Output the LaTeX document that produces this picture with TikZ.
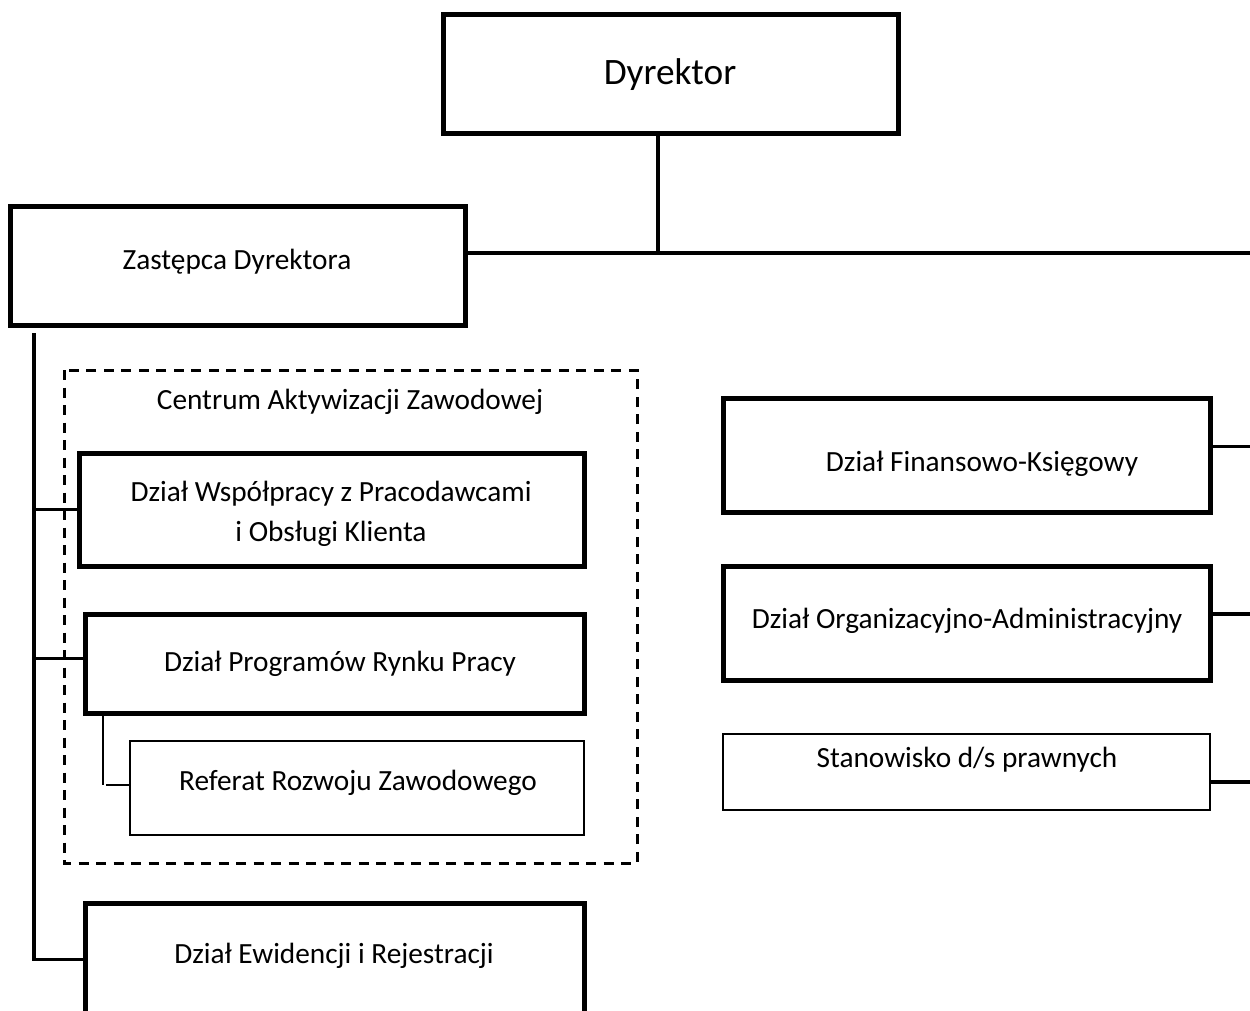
\documentclass[tikz,border=0pt]{standalone}
\usepackage{fontspec}
\setmainfont{Carlito}
\tikzset{
  unit/.style={draw, line width=5pt, inner sep=0pt, outer sep=0pt},
  thinunit/.style={draw, line width=2pt, inner sep=0pt, outer sep=0pt},
  lbl/.style={inner sep=0pt, font=\fontsize{29.3}{40}\selectfont, align=center},
  link/.style={line width=3.5pt},
  thinlink/.style={line width=1.6pt}
}
\begin{document}
\begin{tikzpicture}[x=1pt,y=-1pt]
      \useasboundingbox (0,0) rectangle (1250,1010);
      % boxes
      \node[unit,minimum width=455pt,minimum height=119pt](dyr) at(670.5,74) {};
      \node[unit,minimum width=455.5pt,minimum height=119.5pt](zast) at(237.75,265.75) {};
      \node[unit,minimum width=505pt,minimum height=113pt](wsp) at(331.5,509.5) {};
      \node[unit,minimum width=499pt,minimum height=99pt](prog) at(334.5,663.5) {};
      \node[thinunit,minimum width=454pt,minimum height=94pt](ref) at(357,788) {};
      \node[unit,minimum width=499pt,minimum height=117pt](ewid) at(334.5,961.5) {};
      \foreach \n/\y/\h in {fin/455/114, org/623/114}{
        \node[unit,minimum width=487pt,minimum height=\h pt](\n) at(966.5,\y) {};
      }
      \node[thinunit,minimum width=487pt,minimum height=76pt](stan) at(966.5,772) {};
      \draw[line width=3pt,dash pattern=on 10pt off 7.5pt] (64,370) rectangle (637,863);
      % texts
      \node[lbl,font=\fontsize{37.3}{44}\selectfont](dyrtxt) at(670,75) {Dyrektor};
      \node[lbl](zasttxt) at(237,262) {Zastępca Dyrektora};
      \node[lbl](cazt) at(350,402) {Centrum Aktywizacji Zawodowej};
      \node[lbl](wsptxt) at(331,514) {Dział Współpracy z Pracodawcami\\i Obsługi Klienta};
      \node[lbl](progtxt) at(340,664) {Dział Programów Rynku Pracy};
      \node[lbl](reftxt) at(358,783) {Referat Rozwoju Zawodowego};
      \node[lbl](ewidtxt) at(334,956) {Dział Ewidencji i Rejestracji};
      \node[lbl](fintxt) at(982,464) {Dział Finansowo-Księgowy};
      \node[lbl](orgtxt) at(967,621) {Dział Organizacyjno-Administracyjny};
      \node[lbl](stantxt) at(967,760) {Stanowisko d/s prawnych};
      % connectors
      \coordinate (j) at(658,253);
      \coordinate (e) at(1260,253);
      \draw[link](dyr.south -| j)--(j);
      \draw[link](zast.east |- j)--(e);
      \coordinate (t0) at(34,333);
      \coordinate (t1) at(34,959.5);
      \draw[link](t0)--(t1)--(ewid.west |- t1);
      \draw[link](t0 |- wsp.west)--(wsp.west);
      \coordinate (p) at(34,658);
      \draw[link,line width=3pt](p)--(prog.west |- p);
      \coordinate (r0) at(103,713);
      \coordinate (r1) at(103,785);
      \draw[thinlink](r0)--(r1);
      \draw[thinlink]([xshift=3pt]r1)--(ref.west |- r1);
      \foreach \n/\y/\w in {fin/446/3pt, org/614/3.5pt, stan/782/4.5pt}{
        \coordinate (c\n) at(1260,\y);
        \draw[line width=\w](\n.east |- c\n)--(c\n);
      }
    \end{tikzpicture}
\end{document}
